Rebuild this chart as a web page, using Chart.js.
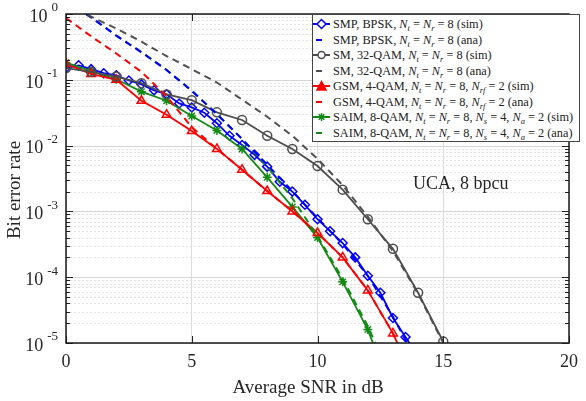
<!DOCTYPE html>
<html>
<head>
<meta charset="utf-8">
<script src="https://cdn.jsdelivr.net/npm/chart.js@4.4.1/dist/chart.umd.min.js"></script>
<style>
  html, body { margin: 0; padding: 0; background: #fff; }
  #wrap { position: relative; width: 586px; height: 401px; }
  #legend {
    position: absolute; left: 312px; top: 14px; width: 268px; height: 128px;
    box-sizing: border-box; border: 1.5px solid #444; background: #fff;
    font-family: "Liberation Serif", "DejaVu Serif", serif; font-size: 12.3px; color: #222;
    padding-top: 2px; overflow: hidden;
  }
  .row { height: 15.5px; line-height: 15.5px; white-space: nowrap; }
  .row svg { vertical-align: -2px; margin-right: 0px; }
  .row .gap { display: inline-block; width: 3px; }
  .row i { font-style: italic; }
  .row sub { font-size: 8.5px; font-style: italic; vertical-align: -3px; line-height: 0; }
</style>
</head>
<body>
<div id="wrap">
  <canvas id="berChart" width="586" height="401"></canvas>
  <div id="legend"></div>
</div>
<script>
// SNR grids (dB)
const snrHalf = [0, 0.5, 1, 1.5, 2, 2.5, 3, 3.5, 4, 4.5, 5, 5.5, 6, 6.5, 7, 7.5, 8, 8.5, 9, 9.5, 10, 10.5, 11, 11.5, 12, 12.5, 13, 13.5, 14];
const snrInt = [0, 1, 2, 3, 4, 5, 6, 7, 8, 9, 10, 11, 12, 13, 14, 15];

// SMP, BPSK
const smpSim = [0.151, 0.166, 0.145, 0.126, 0.117, 0.0977, 0.0851, 0.0692, 0.0603, 0.0437, 0.038, 0.0316, 0.0219, 0.0141, 0.0102, 0.00724, 0.00479, 0.00282, 0.002, 0.00126, 7.6e-4, 5.0e-4, 3.3e-4, 2.0e-4, 1.05e-4, 5.8e-5, 2.4e-5, 1.23e-5, 6.3e-6];
const smpAna = [1.58, 0.89, 0.468, 0.263, 0.141, 0.0676, 0.0302, 0.0126, 0.00513, 0.00204, 7.9e-4, 3.2e-4, 1.05e-4, 2.5e-5, 5.0e-6];
// SM, 32-QAM
const smSim = [0.151, 0.132, 0.112, 0.089, 0.06, 0.049, 0.032, 0.0245, 0.0141, 0.0089, 0.0049, 0.00214, 7.6e-4, 2.7e-4, 5.8e-5, 1.05e-5];
const smAna = [1.41, 0.91, 0.6, 0.38, 0.229, 0.145, 0.091, 0.05, 0.0275, 0.0141, 0.0063, 0.0025, 8.3e-4, 2.5e-4, 5.6e-5, 1.0e-5];
// GSM, 4-QAM
const gsmSim = [0.174, 0.123, 0.1, 0.048, 0.0295, 0.0166, 0.0089, 0.0043, 0.00204, 0.001, 4.7e-4, 2.0e-4, 6.3e-5, 1.4e-5, 2.0e-6];
const gsmAna = [0.87, 0.457, 0.251, 0.132, 0.056, 0.019, 0.0089, 0.0043, 0.00204, 0.001, 4.7e-4, 2.0e-4, 6.3e-5, 1.4e-5, 2.0e-6];
// SAIM, 8-QAM
const saimSim = [0.182, 0.135, 0.102, 0.066, 0.048, 0.0282, 0.017, 0.0089, 0.0033, 0.00117, 4.0e-4, 8.5e-5, 1.6e-5, 1.6e-6];
const saimAna = [1.58, 0.89, 0.468, 0.263, 0.141, 0.069, 0.03, 0.0126, 0.0048, 0.00158, 4.2e-4, 9.5e-5, 1.8e-5, 2.5e-6];

const yDecades = [1, 1e-1, 1e-2, 1e-3, 1e-4, 1e-5];
const yMinor = [2, 3, 4, 5, 6, 7, 8, 9];
const xTicks = [0, 5, 10, 15, 20];

const BLUE = "#0000ff", GRAY = "#4d4d4d", RED = "#ff0000", GREEN = "#138a13";
const SERIF = "'Liberation Serif', 'DejaVu Serif', serif";

function pts(xs, ys) {
  return ys.map((y, i) => ({ x: xs[i], y: y }));
}

function simSet(label, xs, ys, color, style, r) {
  return {
    label: label, data: pts(xs, ys), borderColor: color, backgroundColor: "rgba(255,255,255,0)",
    borderWidth: 1.8, pointStyle: style, pointRadius: r, pointBorderWidth: 1.5,
    pointBorderColor: color, pointBackgroundColor: "rgba(255,255,255,0)", tension: 0,
  };
}
function anaSet(label, xs, ys, color) {
  return {
    label: label, data: pts(xs, ys), borderColor: color, borderWidth: 2,
    borderDash: [7, 5], pointRadius: 0, tension: 0,
  };
}

// grid, box, ticks and text around the plot
const framePlugin = {
  id: "frame",
  beforeDatasetsDraw(chart) {
    const { ctx, chartArea: a, scales } = chart;
    const y = scales.y;
    ctx.save();
    ctx.lineWidth = 1;
    for (let d = 0; d < yDecades.length - 1; d++) {
      yMinor.forEach((m) => {
        const py = Math.round(y.getPixelForValue(yDecades[d + 1] * m)) + 0.5;
        ctx.strokeStyle = "#e2e2e2";
        ctx.setLineDash([2, 2]);
        ctx.beginPath(); ctx.moveTo(a.left, py); ctx.lineTo(a.right, py); ctx.stroke();
      });
    }
    ctx.setLineDash([]);
    ctx.strokeStyle = "#d6d6d6";
    yDecades.forEach((v) => {
      const py = Math.round(y.getPixelForValue(v)) + 0.5;
      ctx.beginPath(); ctx.moveTo(a.left, py); ctx.lineTo(a.right, py); ctx.stroke();
    });
    ctx.restore();
  },
  afterDatasetsDraw(chart) {
    const { ctx, chartArea: a, scales } = chart;
    const x = scales.x, y = scales.y;
    ctx.save();
    ctx.strokeStyle = "#222";
    ctx.lineWidth = 1;
    // minor / major ticks (inward)
    for (let d = 0; d < yDecades.length - 1; d++) {
      yMinor.forEach((m) => {
        const py = Math.round(y.getPixelForValue(yDecades[d + 1] * m)) + 0.5;
        ctx.beginPath();
        ctx.moveTo(a.left, py); ctx.lineTo(a.left + 4, py);
        ctx.moveTo(a.right, py); ctx.lineTo(a.right - 4, py);
        ctx.stroke();
      });
    }
    yDecades.forEach((v) => {
      const py = Math.round(y.getPixelForValue(v)) + 0.5;
      ctx.beginPath();
      ctx.moveTo(a.left, py); ctx.lineTo(a.left + 7, py);
      ctx.moveTo(a.right, py); ctx.lineTo(a.right - 7, py);
      ctx.stroke();
    });
    xTicks.forEach((v) => {
      const px = Math.round(x.getPixelForValue(v)) + 0.5;
      ctx.beginPath();
      ctx.moveTo(px, a.bottom); ctx.lineTo(px, a.bottom - 7);
      ctx.moveTo(px, a.top); ctx.lineTo(px, a.top + 7);
      ctx.stroke();
    });
    // box
    ctx.lineWidth = 1.5;
    ctx.strokeStyle = "#1a1a1a";
    ctx.strokeRect(a.left, a.top, a.right - a.left, a.bottom - a.top);

    // y tick labels 10^k
    ctx.fillStyle = "#262626";
    ctx.textBaseline = "middle";
    yDecades.forEach((v) => {
      const k = Math.round(Math.log10(v));
      const py = y.getPixelForValue(v);
      const sup = k === 0 ? "0" : "-" + (-k);
      ctx.font = "13px " + SERIF;
      ctx.textAlign = "right";
      const sw = ctx.measureText(sup).width;
      ctx.fillText(sup, 58, py - 6);
      ctx.font = "18px " + SERIF;
      ctx.fillText("10", 58 - sw - 4, py + 3);
    });

    // axis titles
    ctx.font = "19px " + SERIF;
    ctx.textAlign = "center";
    ctx.fillText("Average SNR in dB", 308, 388);
    ctx.save();
    ctx.translate(15, 190);
    ctx.rotate(-Math.PI / 2);
    ctx.fillText("Bit error rate", 0, 0);
    ctx.restore();

    // annotation
    ctx.font = "18px " + SERIF;
    ctx.textAlign = "left";
    ctx.fillText("UCA, 8 bpcu", 413, 184);
    ctx.restore();
  },
};

const ctx = document.getElementById("berChart");
new Chart(ctx, {
  type: "line",
  data: {
    datasets: [
      anaSet("SM ana", snrInt, smAna, "#505050"),
      anaSet("SMP ana", snrInt, smpAna, BLUE),
      anaSet("SAIM ana", snrInt, saimAna, GREEN),
      anaSet("GSM ana", snrInt, gsmAna, RED),
      simSet("SM sim", snrInt, smSim, GRAY, "circle", 4.5),
      simSet("GSM sim", snrInt, gsmSim, RED, "triangle", 5),
      simSet("SAIM sim", snrInt, saimSim, GREEN, "star", 4.5),
      simSet("SMP sim", snrHalf, smpSim, BLUE, "rectRot", 4.5),
    ],
  },
  options: {
    responsive: false,
    animation: false,
    devicePixelRatio: 1,
    layout: { padding: { top: 14, right: 6, left: 0, bottom: 0 } },
    plugins: { legend: { display: false }, tooltip: { enabled: false } },
    scales: {
      x: {
        type: "linear", min: 0, max: 20,
        afterFit: (scale) => { scale.height = 58; },
        ticks: { stepSize: 5, padding: 8, color: "#262626", font: { family: SERIF, size: 18 } },
        grid: { color: "#dcdcdc", drawTicks: false },
        border: { display: false },
      },
      y: {
        type: "logarithmic", min: 1e-5, max: 1,
        afterFit: (scale) => { scale.width = 66; },
        ticks: { display: false },
        grid: { display: false, drawTicks: false },
        border: { display: false },
      },
    },
  },
  plugins: [framePlugin],
});

// legend with italic symbols and subscripts
const legendRows = [
  { c: BLUE, m: "diamond", t: "SMP, BPSK, <i>N</i><sub>t</sub> = <i>N</i><sub>r</sub> = 8 (sim)" },
  { c: BLUE, m: "dash", t: "SMP, BPSK, <i>N</i><sub>t</sub> = <i>N</i><sub>r</sub> = 8 (ana)" },
  { c: GRAY, m: "circle", t: "SM, 32-QAM, <i>N</i><sub>t</sub> = <i>N</i><sub>r</sub> = 8 (sim)" },
  { c: GRAY, m: "dash", t: "SM, 32-QAM, <i>N</i><sub>t</sub> = <i>N</i><sub>r</sub> = 8 (ana)" },
  { c: RED, m: "triangle", t: "GSM, 4-QAM, <i>N</i><sub>t</sub> = <i>N</i><sub>r</sub> = 8, <i>N</i><sub>rf</sub> = 2 (sim)" },
  { c: RED, m: "dash", t: "GSM, 4-QAM, <i>N</i><sub>t</sub> = <i>N</i><sub>r</sub> = 8, <i>N</i><sub>rf</sub> = 2 (ana)" },
  { c: GREEN, m: "star", t: "SAIM, 8-QAM, <i>N</i><sub>t</sub> = <i>N</i><sub>r</sub> = 8, <i>N</i><sub>s</sub> = 4, <i>N</i><sub>a</sub> = 2 (sim)" },
  { c: GREEN, m: "dash", t: "SAIM, 8-QAM, <i>N</i><sub>t</sub> = <i>N</i><sub>r</sub> = 8, <i>N</i><sub>s</sub> = 4, <i>N</i><sub>a</sub> = 2 (ana)" },
];

function symbol(c, m) {
  let s = '<svg width="17" height="12" viewBox="0 0 17 12">';
  if (m === "dash") {
    s += `<line x1="3" y1="6" x2="9" y2="6" stroke="${c}" stroke-width="2"/>`;
  } else {
    s += `<line x1="0" y1="6" x2="17" y2="6" stroke="${c}" stroke-width="2"/>`;
    if (m === "diamond") s += `<polygon points="8.5,1.5 13,6 8.5,10.5 4,6" fill="#fff" stroke="${c}" stroke-width="1.5"/>`;
    if (m === "circle") s += `<circle cx="8.5" cy="6" r="3.5" fill="#fff" stroke="${c}" stroke-width="1.5"/>`;
    if (m === "triangle") s += `<polygon points="8.5,1.5 13,10 4,10" fill="${c}" stroke="${c}" stroke-width="1.5"/>`;
    if (m === "star") s += `<path d="M8.5 2 V10 M4.5 6 H12.5 M5.7 3.2 L11.3 8.8 M11.3 3.2 L5.7 8.8" stroke="${c}" stroke-width="1.5"/>`;
  }
  return s + "</svg>";
}

document.getElementById("legend").innerHTML = legendRows
  .map((r) => `<div class="row">${symbol(r.c, r.m)}<span class="gap"></span>${r.t}</div>`)
  .join("");
</script>
</body>
</html>
